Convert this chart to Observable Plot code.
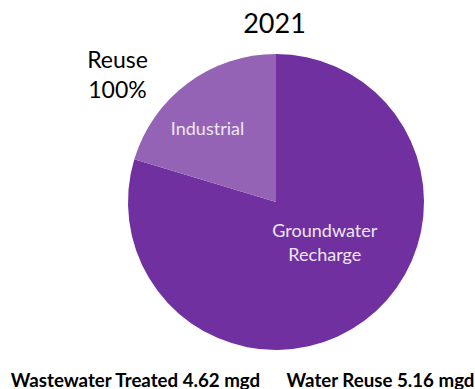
<!DOCTYPE html>
<html><head><meta charset="utf-8">
<script src="https://cdn.jsdelivr.net/npm/d3@7"></script>
<script src="https://cdn.jsdelivr.net/npm/@observablehq/plot@0.6"></script>
<style>body{margin:0;background:#fff}</style>
</head><body><div id="chart"></div>
<script>
// Data
const categories = ["Groundwater Recharge", "Industrial"];
const values = [4.11, 1.05]; // mgd (share of water reuse)
const sliceLabels = ["Groundwater\nRecharge", "Industrial"];
const title = "2021";
const sideLabel = "Reuse\n100%";
const footerLeft = "Wastewater Treated 4.62 mgd";
const footerRight = "Water Reuse 5.16 mgd";
const colors = ["#7030A0", "#9563B6"];

const data = categories.map((c, i) => ({category: c, value: values[i], label: sliceLabels[i]}));
const pie = d3.pie().sort(null).value(d => d.value)(data);
// label placement within each slice: radius (fraction of pie radius) and position along the slice's arc
const labelR = [0.42, 0.69];
const labelFrac = [0.45, 0.42];
const labelPts = pie.map((a, i) => {
  const ang = a.startAngle + (a.endAngle - a.startAngle) * labelFrac[i];
  return {label: a.data.label, x: labelR[i] * Math.sin(ang), y: labelR[i] * Math.cos(ang)};
});

const font = "Lato, 'Open Sans', sans-serif";

const pieMark = (index, scales) => {
  const cx = scales.x(0), cy = scales.y(0), r = scales.x(1) - scales.x(0);
  const arc = d3.arc().innerRadius(0).outerRadius(r);
  const g = d3.create("svg:g").attr("transform", `translate(${cx},${cy})`);
  g.selectAll("path").data(pie).join("path")
    .attr("d", arc)
    .attr("fill", (d, i) => colors[i]);
  return g.node();
};

const chart = Plot.plot({
  width: 475, height: 389,
  margin: 0,
  x: {domain: [-1, 1], range: [128, 424], axis: null},
  y: {domain: [-1, 1], range: [350, 54], axis: null},
  style: {fontFamily: font, background: "#fff"},
  marks: [
    pieMark,
    Plot.text(labelPts, {x: "x", y: "y", text: "label", fill: "#EEE6F4", fontSize: 18,
      lineHeight: 1.33, textAnchor: "middle"}),
    Plot.text([title], {frameAnchor: "top-left", dx: 274, dy: 32, lineAnchor: "bottom",
      textAnchor: "middle", fontSize: 27, fill: "#000"}),
    Plot.text([sideLabel], {frameAnchor: "top-left", dx: 117, dy: 97, lineAnchor: "bottom",
      textAnchor: "middle", fontSize: 23, lineHeight: 1.3, fill: "#000"}),
    Plot.text([footerLeft], {frameAnchor: "bottom-left", dx: 135, dy: -3, lineAnchor: "bottom",
      textAnchor: "middle", fontSize: 18.7, fontWeight: "bold", fill: "#000"}),
    Plot.text([footerRight], {frameAnchor: "bottom-left", dx: 380, dy: -3, lineAnchor: "bottom",
      textAnchor: "middle", fontSize: 18.7, fontWeight: "bold", fill: "#000"})
  ]
});
document.getElementById("chart").appendChild(chart);
</script>
</body></html>
